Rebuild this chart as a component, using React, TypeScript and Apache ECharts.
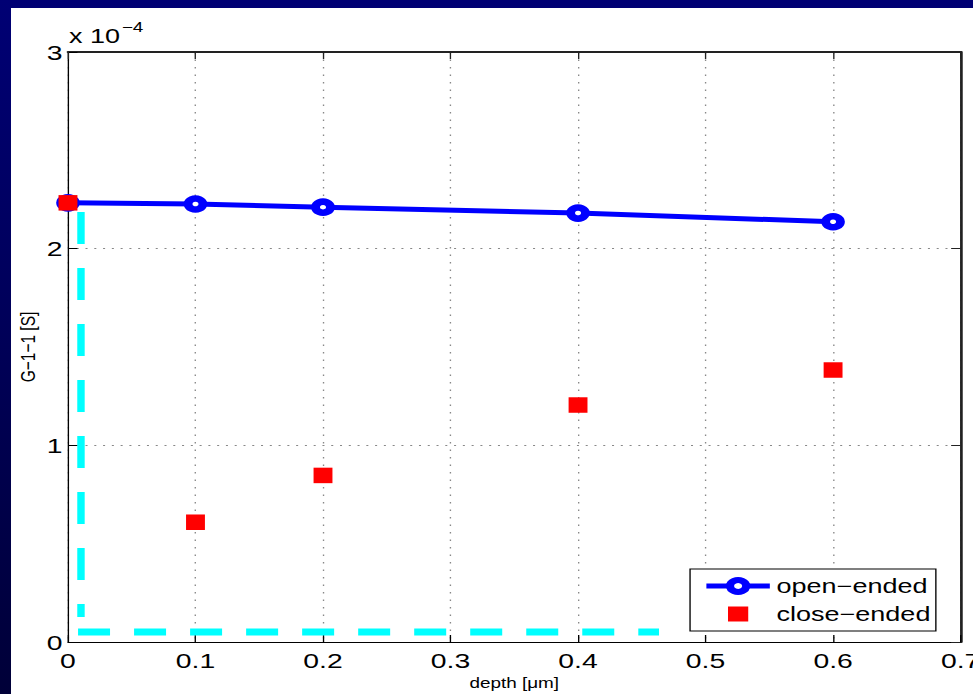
import React, { useEffect, useRef } from "react";
import * as echarts from "echarts";

// ---- data (y values in units of 1e-4 S) ----
const depthValues = [0, 0.1, 0.2, 0.4, 0.6];
const openEnded = [2.233, 2.227, 2.211, 2.181, 2.137];
const closeEnded = [2.233, 0.609, 0.847, 1.205, 1.383];
const cyanVertical = [
  [0.0102, 2.186],
  [0.0102, 0.127],
];
const cyanHorizontal = [
  [0.0079, 0.051],
  [0.4635, 0.051],
];
const xRange = { min: 0, max: 0.7, interval: 0.1 };
const yRange = { min: 0, max: 3, interval: 1 };
const seriesNames = ["open\u2212ended", "close\u2212ended"];
const exponentBase = "x 10";
const exponentPower = "\u22124";
const xName = "depth [\u03bcm]";
const yName = "G\u22121\u22121 [S]";

// ---- layout ----
const STRETCH = 1.35;
const FIG_W = 962;
const FIG_H = 686;
const FONT = "'Liberation Sans', Arial, Helvetica, sans-serif";
const SQUARE_ICON = "path://M0,0L10,0L10,10L0,10Z";

export default function App() {
  const ref = useRef<HTMLDivElement>(null);

  useEffect(() => {
    if (!ref.current) return;
    const chart = echarts.init(ref.current, undefined, { renderer: "svg" });

    const xFmt = (v: number) => String(+v.toFixed(1));

    const sideAxis = {
      show: true,
      axisLabel: { show: false },
      axisTick: { show: true, inside: true, length: 7, lineStyle: { color: "#222", width: 1 } },
      axisLine: { show: true, onZero: false, lineStyle: { color: "#222", width: 2 } },
      splitLine: { show: false },
    };

    chart.setOption({
      animation: false,
      backgroundColor: "#ffffff",
      textStyle: { fontFamily: FONT },
      grid: {
        left: 42.2,
        right: 9.6,
        top: 44,
        bottom: 52,
        containLabel: false,
        outerBoundsMode: "none",
      },
      xAxis: [
        {
          type: "value",
          position: "bottom",
          min: xRange.min,
          max: xRange.max,
          interval: xRange.interval,
          name: xName,
          nameLocation: "middle",
          nameGap: 34,
          nameMoveOverlap: false,
          nameTextStyle: { fontSize: 14, color: "#000", fontFamily: FONT },
          axisLine: { show: true, onZero: false, lineStyle: { color: "#000", width: 1 } },
          axisTick: { show: true, inside: true, length: 7, lineStyle: { color: "#000", width: 1 } },
          axisLabel: { show: true, margin: 8, fontSize: 21, color: "#000", fontFamily: FONT, formatter: xFmt },
          splitLine: { show: true, lineStyle: { color: "#888", width: 1, type: [1.5, 6] } },
        },
        {
          type: "value",
          position: "top",
          min: xRange.min,
          max: xRange.max,
          interval: xRange.interval,
          ...sideAxis,
        },
      ],
      yAxis: [
        {
          type: "value",
          position: "left",
          min: yRange.min,
          max: yRange.max,
          interval: yRange.interval,
          name: yName,
          nameLocation: "middle",
          nameGap: 22,
          nameMoveOverlap: false,
          nameTextStyle: { fontSize: 15.5, color: "#000", fontFamily: FONT },
          axisLine: { show: true, onZero: false, lineStyle: { color: "#000", width: 1 } },
          axisTick: { show: true, inside: true, length: 7, lineStyle: { color: "#000", width: 1 } },
          axisLabel: { show: true, margin: 4, fontSize: 21, color: "#000", fontFamily: FONT },
          splitLine: { show: true, lineStyle: { color: "#888", width: 1, type: [1.5, 5] } },
        },
        {
          type: "value",
          position: "right",
          min: yRange.min,
          max: yRange.max,
          interval: yRange.interval,
          ...sideAxis,
        },
      ],
      legend: {
        orient: "vertical",
        left: 503,
        top: 561,
        padding: [7, 4, 7, 9.6],
        itemGap: 8,
        itemWidth: 47,
        itemHeight: 15,
        selectedMode: false,
        backgroundColor: "#ffffff",
        borderColor: "#000000",
        borderWidth: 1,
        borderRadius: 0,
        textStyle: { fontSize: 20, lineHeight: 20, color: "#000", fontFamily: FONT },
        data: [
          { name: seriesNames[0], itemStyle: { borderWidth: 6 }, lineStyle: { width: 5 } },
          { name: seriesNames[1], icon: SQUARE_ICON, itemStyle: { opacity: 1 } },
        ],
      },
      graphic: [
        {
          type: "text",
          x: 43,
          y: 28,
          silent: true,
          style: { text: exponentBase, fontSize: 20, fontFamily: FONT, fill: "#000", verticalAlign: "middle", align: "left" },
        },
        {
          type: "text",
          x: 82,
          y: 19,
          silent: true,
          style: { text: exponentPower, fontSize: 14, fontFamily: FONT, fill: "#000", verticalAlign: "middle", align: "left" },
        },
      ],
      series: [
        {
          type: "line",
          data: cyanVertical,
          symbol: "none",
          silent: true,
          clip: false,
          z: 1,
          lineStyle: { color: "#00ffff", width: 5.5, type: [32, 24], cap: "butt" },
        },
        {
          type: "line",
          data: cyanHorizontal,
          symbol: "none",
          silent: true,
          clip: false,
          z: 1,
          lineStyle: { color: "#00ffff", width: 7, type: [23.7, 17.8], cap: "butt" },
        },
        {
          name: seriesNames[0],
          type: "line",
          data: depthValues.map((d, i) => [d, openEnded[i]]),
          symbol: "circle",
          symbolSize: 11,
          showSymbol: true,
          clip: false,
          z: 2,
          itemStyle: { color: "#ffffff", borderColor: "#0000ff", borderWidth: 6.5 },
          lineStyle: { color: "#0000ff", width: 5 },
        },
        {
          name: seriesNames[1],
          type: "scatter",
          data: depthValues.map((d, i) => [d, closeEnded[i]]),
          symbol: "rect",
          symbolSize: [14, 15.5],
          clip: false,
          z: 5,
          itemStyle: { color: "#ff0000", opacity: 1 },
        },
      ],
    });

    return () => chart.dispose();
  }, []);

  return (
    <div
      style={{
        position: "fixed",
        left: 0,
        top: 0,
        width: 973,
        height: 694,
        overflow: "hidden",
        background: "linear-gradient(to bottom, #000074 0%, #00005a 45%, #000038 100%)",
      }}
    >
      <div
        ref={ref}
        style={{
          position: "absolute",
          left: 11,
          top: 8,
          width: FIG_W / STRETCH,
          height: FIG_H,
          transform: `scaleX(${STRETCH})`,
          transformOrigin: "0 0",
          background: "#ffffff",
        }}
      />
    </div>
  );
}
